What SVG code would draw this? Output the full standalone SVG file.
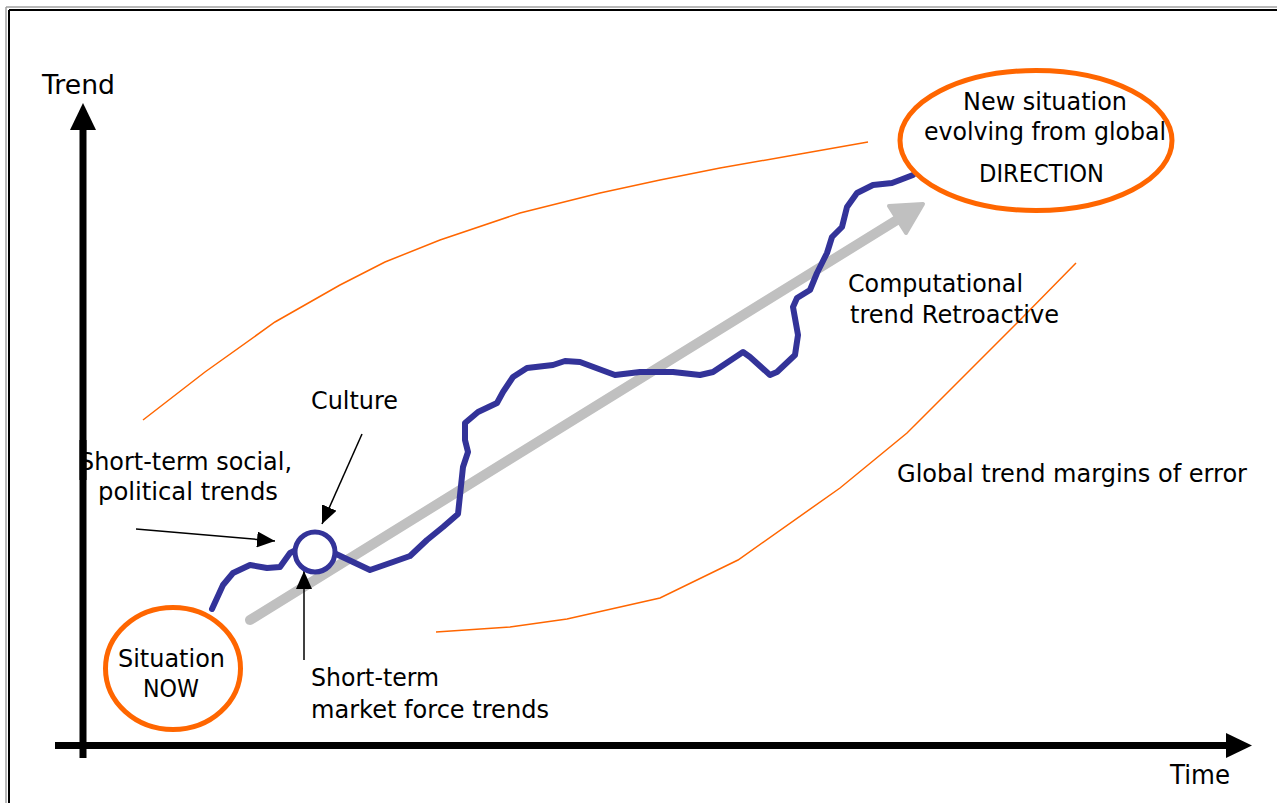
<svg xmlns="http://www.w3.org/2000/svg" width="1277" height="803" viewBox="0 0 1277 803">
<style>
  text { font-family: "DejaVu Sans", "Liberation Sans", sans-serif; font-size: 24px; fill: #000; }
  .axislbl { font-size: 26px; }
  .axis { stroke: #000; stroke-width: 7; fill: none; }
  .thin { stroke: #000; stroke-width: 1.5; fill: none; marker-end: url(#ah); }
  .margin { stroke: #ff6600; stroke-width: 1.5; fill: none; }
  .orange { stroke: #ff6600; stroke-width: 5; fill: #fff; }
  .blue { stroke: #333399; stroke-width: 6; fill: none; stroke-linejoin: round; stroke-linecap: round; }
</style>
<defs>
  <marker id="ah" markerUnits="userSpaceOnUse" markerWidth="18" markerHeight="16" refX="18" refY="8" orient="auto">
    <path d="M0,0 L18,8 L0,16 z" fill="#000"/>
  </marker>
</defs>
<rect width="1277" height="803" fill="#fff"/>
<!-- frame -->
<g id="frame">
  <line x1="6" y1="7" x2="6" y2="803" stroke="#a0a0a0" stroke-width="1.5"/>
  <line x1="6" y1="7" x2="1277" y2="7" stroke="#a0a0a0" stroke-width="1.5"/>
  <line x1="9" y1="10" x2="9" y2="803" stroke="#000" stroke-width="2"/>
  <line x1="9" y1="10" x2="1277" y2="10" stroke="#000" stroke-width="2"/>
</g>
<!-- margins of error -->
<g id="margins">
  <polyline class="margin" points="143,420 205,372 275,322 340,285 385,262 440,240 520,213 600,193 660,180 720,168 800,154 868,142"/>
  <polyline class="margin" points="436,632 510,627 567,619 660,598 738,560 840,488 907,433 970,370 1020,320 1076,263"/>
</g>
<!-- computational trend arrow -->
<g id="computational-trend">
  <line x1="250" y1="620" x2="905" y2="215" stroke="#c0c0c0" stroke-width="10" stroke-linecap="round"/>
  <polygon points="923,204 889,206 906,233" fill="#c0c0c0" stroke="#c0c0c0" stroke-width="4" stroke-linejoin="round"/>
</g>
<!-- actual trend path -->
<g id="actual-path">
  <polyline class="blue" points="212,609 223,585 233,573 250,565 267,568 280,567 290,553 296,550"/>
  <polyline class="blue" points="334,553 370,570 393,562 410,556 427,540 443,527 458,514 463,467 468,452 465,440 465,423 478,412 497,403 503,392 513,377 527,368 553,365 565,361 580,362 615,375 640,372 673,372 700,375 713,372 743,352 750,357 770,375 777,372 795,355 798,335 793,307 797,298 810,290 817,273 827,253 832,237 842,227 847,207 857,193 873,185 892,183 900,180 913,175"/>
</g>
<!-- axes -->
<g id="axes">
  <line class="axis" x1="83" y1="758" x2="83" y2="128"/>
  <polygon points="83,103 70,130 96,130" fill="#000"/>
  <line class="axis" x1="55" y1="745.5" x2="1228" y2="745.5"/>
  <polygon points="1252,745.5 1226,733 1226,758" fill="#000"/>
  <text class="axislbl" x="42" y="94" textLength="73" lengthAdjust="spacingAndGlyphs">Trend</text>
  <text class="axislbl" x="1170" y="784" textLength="60" lengthAdjust="spacingAndGlyphs">Time</text>
</g>
<!-- connectors -->
<g id="connectors">
  <line class="thin" x1="136" y1="529" x2="275" y2="541"/>
  <line class="thin" x1="362" y1="434" x2="322" y2="524"/>
  <line class="thin" x1="304" y1="660" x2="304" y2="571"/>
</g>
<!-- nodes -->
<g id="node-now">
  <ellipse class="orange" cx="173" cy="668.5" rx="67.5" ry="61"/>
  <text x="118" y="667" textLength="107" lengthAdjust="spacingAndGlyphs">Situation</text>
  <text x="143" y="697" textLength="56" lengthAdjust="spacingAndGlyphs">NOW</text>
</g>
<g id="node-new">
  <ellipse class="orange" cx="1036" cy="140.5" rx="136" ry="70"/>
  <text x="963" y="110" textLength="164" lengthAdjust="spacingAndGlyphs">New situation</text>
  <text x="924" y="140" textLength="242" lengthAdjust="spacingAndGlyphs">evolving from global</text>
  <text x="979" y="182" textLength="125" lengthAdjust="spacingAndGlyphs">DIRECTION</text>
</g>
<g id="node-culture">
  <circle cx="315" cy="552" r="20" fill="#fff" stroke="#333399" stroke-width="5"/>
</g>
<g id="labels">
  <text x="311" y="409" textLength="87" lengthAdjust="spacingAndGlyphs">Culture</text>
  <text x="848" y="292" textLength="175" lengthAdjust="spacingAndGlyphs">Computational</text>
  <text x="850" y="323" textLength="209" lengthAdjust="spacingAndGlyphs">trend Retroactive</text>
  <text x="98" y="500" textLength="180" lengthAdjust="spacingAndGlyphs">political trends</text>
  <text x="311" y="686" textLength="128" lengthAdjust="spacingAndGlyphs">Short-term</text>
  <text x="311" y="718" textLength="238" lengthAdjust="spacingAndGlyphs">market force trends</text>
  <text x="897" y="482" textLength="350" lengthAdjust="spacingAndGlyphs">Global trend margins of error</text>
</g>
<g id="label-social">
  <text x="79" y="470" textLength="213" lengthAdjust="spacingAndGlyphs">Short-term social,</text>
  <line x1="83" y1="440" x2="83" y2="480" stroke="#000" stroke-width="7"/>
</g>
</svg>
